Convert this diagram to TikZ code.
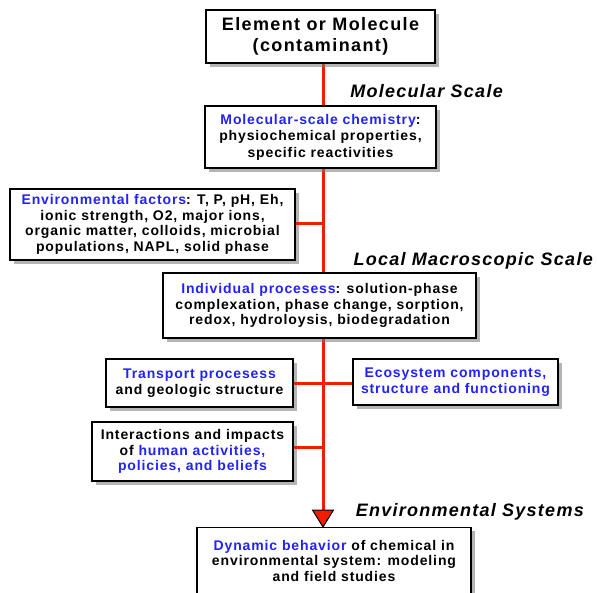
\documentclass[tikz,border=0pt]{standalone}
\usepackage{fontspec}
\setmainfont{Liberation Sans}
\newfontfamily\boxfont[LetterSpace=6.3]{Liberation Sans}
\newfontfamily\titlefont[LetterSpace=7.7]{Liberation Sans}
\newfontfamily\labelfont[LetterSpace=7]{Liberation Sans}
\usetikzlibrary{shadows}
\definecolor{hl}{RGB}{34,34,255}
\definecolor{redline}{RGB}{240,30,0}
\definecolor{shad}{RGB}{120,120,120}
\tikzset{
  box/.style={draw=black, line width=1.4pt, fill=white, align=center, inner sep=0pt,
    font=\boxfont\bfseries\fontsize{14}{15.7}\selectfont,
    drop shadow={shadow xshift=3.5pt, shadow yshift=-3.5pt, fill=shad, opacity=0.55}},
  scale label/.style={font=\labelfont\bfseries\itshape\fontsize{18}{20}\selectfont, anchor=base east, inner sep=0pt},
  conn/.style={draw=redline, line width=3pt},
}
\newcommand{\hb}[1]{\textcolor{hl}{#1}}
\begin{document}
\begin{tikzpicture}[x=1pt,y=-1pt]
\useasboundingbox (0,0) rectangle (597,592);
\fill[white] (0,0) rectangle (597,592);
% connectors first
\coordinate (top) at (323,63);
\coordinate (tip) at (323,527);
\coordinate (j1) at (323,223);
\coordinate (j2) at (323,383);
\coordinate (j3) at (323,447);
\draw[conn] (top) -- (323,512);
\fill[redline, draw=black, line width=1pt] (312.5,510) -- (333.5,510) -- (tip) -- cycle;

\node[box, minimum width=229pt, minimum height=53pt, font=\titlefont\bfseries\fontsize{18}{21}\selectfont] (b1) at (320.5,36.5) {Element or Molecule\\(contaminant)};
\node[box, minimum width=231pt, minimum height=62pt, font=\boxfont\bfseries\fontsize{14}{16.5}\selectfont] (b2) at (320.5,137) {\hb{Molecular-scale chemistry}:\\physiochemical properties,\\specific reactivities};
\node[box, minimum width=285pt, minimum height=71pt] (b3) at (152.5,224.5) {\hb{Environmental factors}: T, P, pH, Eh,\\ionic strength, O2, major ions,\\organic matter, colloids, microbial\\populations, NAPL, solid phase};
\node[box, minimum width=313pt, minimum height=65pt] (b4) at (319.5,305.5) {\hb{Individual procesess}: solution-phase\\complexation, phase change, sorption,\\redox, hydroloysis, biodegradation};
\node[box, minimum width=187pt, minimum height=48pt] (b5) at (199.5,383) {\hb{Transport procesess}\\and geologic structure};
\node[box, minimum width=205pt, minimum height=46pt, text=hl] (b6) at (455.5,382) {Ecosystem components,\\structure and functioning};
\node[box, minimum width=201pt, minimum height=59pt] (b7) at (192.5,451.5) {Interactions and impacts\\of \hb{human activities,}\\\hb{policies, and beliefs}};
\node[box, minimum width=274pt, minimum height=66pt, anchor=north] (b8) at (334,527) {\hb{Dynamic behavior} of chemical in\\environmental system: modeling\\and field studies};

\draw[conn] (b3.east |- j1) -- (j1);
\draw[conn] (b5.east |- j2) -- (b6.west |- j2);
\draw[conn] (b7.east |- j3) -- (j3);

\node[scale label] (l1) at (503,97) {Molecular Scale};
\node[scale label] (l2) at (593,265) {Local Macroscopic Scale};
\node[scale label] (l3) at (584,516) {Environmental Systems};
\end{tikzpicture}
\end{document}
